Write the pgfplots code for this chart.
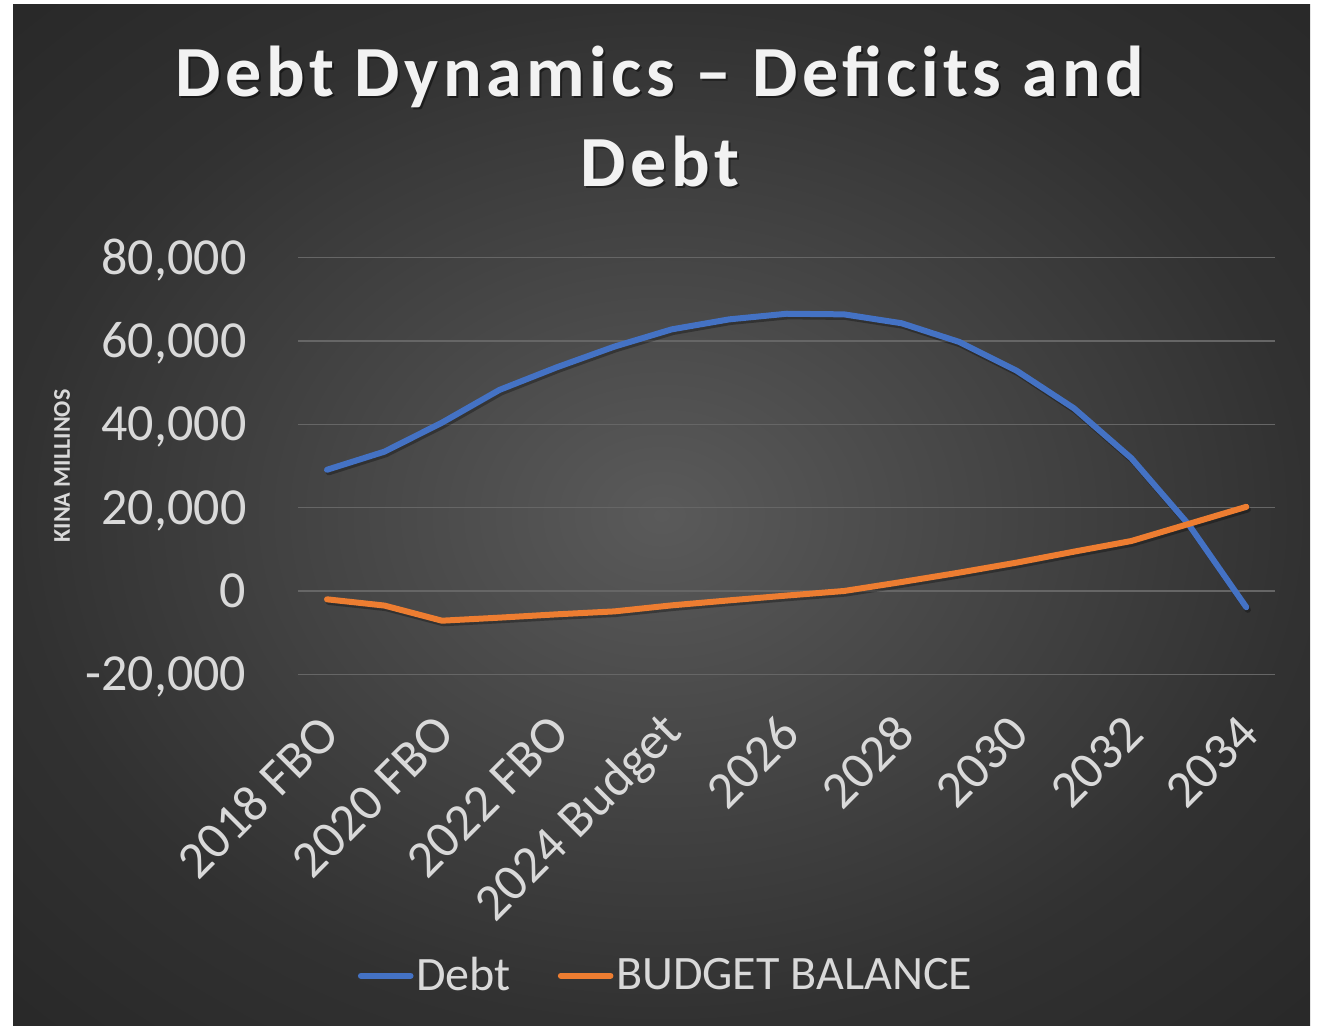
\documentclass[border=0pt]{standalone}
\usepackage{fontspec}
\setmainfont{Carlito}
\newfontfamily\titlefont[LetterSpace=6.2]{Carlito}
\usepackage{pgfplots}
\usepackage{pgfplotstable}
\pgfplotsset{compat=1.18}

\definecolor{bgin}{HTML}{5A5A5A}
\definecolor{bgmid}{HTML}{313131}
\definecolor{bgout}{HTML}{282828}
\definecolor{gridc}{HTML}{666666}
\definecolor{txt}{HTML}{D9D9D9}
\definecolor{titc}{HTML}{F2F2F2}
\definecolor{debtc}{HTML}{4472C4}
\definecolor{balc}{HTML}{ED7D31}
\pgfdeclareradialshading{chartbg}{\pgfpoint{0bp}{0bp}}{color(0bp)=(bgin); color(25bp)=(bgmid); color(36bp)=(bgout); color(50bp)=(bgout)}

\pgfplotstableread{
i debt bal
0 29100 -2000
1 33450 -3500
2 40400 -7130
3 48260 -6400
4 53700 -5600
5 58650 -4900
6 62800 -3450
7 65200 -2250
8 66550 -1100
9 66400 0
10 64270 2150
11 59800 4400
12 52900 6800
13 43860 9440
14 31860 12000
15 15900 16100
16 -3900 20200
}\datatable

\begin{document}
\begin{tikzpicture}
\path[use as bounding box] (0,0) rectangle (660.5pt,512.5pt);
\fill[white] (0,0) rectangle (660.5pt,512.5pt);
\shade[shading=chartbg] (6.5pt,0pt) rectangle (655pt,510pt);

% title (shadow + text)
\begin{scope}[every node/.style={anchor=base, font=\titlefont\bfseries\fontsize{36}{40}\selectfont}]
\node[text=black, opacity=0.45] at (331pt,463.15pt) {Debt Dynamics – Deficits and};
\node[text=black, opacity=0.45] at (331pt,418.15pt) {Debt};
\node[text=titc] at (330pt,464.15pt) {Debt Dynamics – Deficits and};
\node[text=titc] at (330pt,419.15pt) {Debt};
\end{scope}

\node[rotate=90, text=txt, font=\bfseries\fontsize{12}{14}\selectfont] at (31pt,279.5pt) {KINA MILLINOS};

\begin{axis}[
  at={(149.15pt,175.35pt)}, anchor=south west,
  scale only axis, width=488.35pt, height=208.3pt,
  xmin=-0.5, xmax=16.5, ymin=-20000, ymax=80000,
  scaled y ticks=false,
  axis line style={draw=none},
  major tick length=0pt,
  ymajorgrids,
  grid style={gridc, line width=0.7pt},
  ytick={-20000,0,20000,40000,60000,80000},
  yticklabels={{-20,000},{0},{20,000},{40,000},{60,000},{80,000}},
  xtick={0,2,...,16},
  xticklabels={2018 FBO,2020 FBO,2022 FBO,2024 Budget,2026,2028,2030,2032,2034},
  tick label style={text=txt, font=\fontsize{26}{30}\selectfont, inner sep=0pt},
  yticklabel style={anchor=base east, xshift=-25.8pt, yshift=-8.2pt},
  xticklabel style={xshift=1.5pt, yshift=-25pt, rotate=45, anchor=east},
  legend columns=2,
  legend style={at={(axis description cs:0.058,-0.7235)}, anchor=west, draw=none, fill=none,
    inner sep=0pt, outer sep=0pt, text=txt, font=\fontsize{24}{28}\selectfont,
    nodes={inner sep=0pt},
    /tikz/every even column/.append style={column sep=22pt}},
  legend image code/.code={\draw[#1, line width=3pt, line cap=round] (1.5pt,0pt) -- (26.3pt,0pt); \path (0pt,0pt) (27.7pt,0pt);},
]
\addplot[black, opacity=0.3, line width=3pt, line join=round, line cap=round, xshift=0.8pt, yshift=-1.3pt, forget plot] table[x=i,y=debt]{\datatable};
\addplot[black, opacity=0.3, line width=3pt, line join=round, line cap=round, xshift=0.8pt, yshift=-1.3pt, forget plot] table[x=i,y=bal]{\datatable};
\addplot[debtc, line width=3pt, line join=round, line cap=round] table[x=i,y=debt]{\datatable};
\addlegendentry{Debt}
\addplot[balc, line width=3pt, line join=round, line cap=round] table[x=i,y=bal]{\datatable};
\addlegendentry{BUDGET BALANCE}
\end{axis}
\end{tikzpicture}
\end{document}
